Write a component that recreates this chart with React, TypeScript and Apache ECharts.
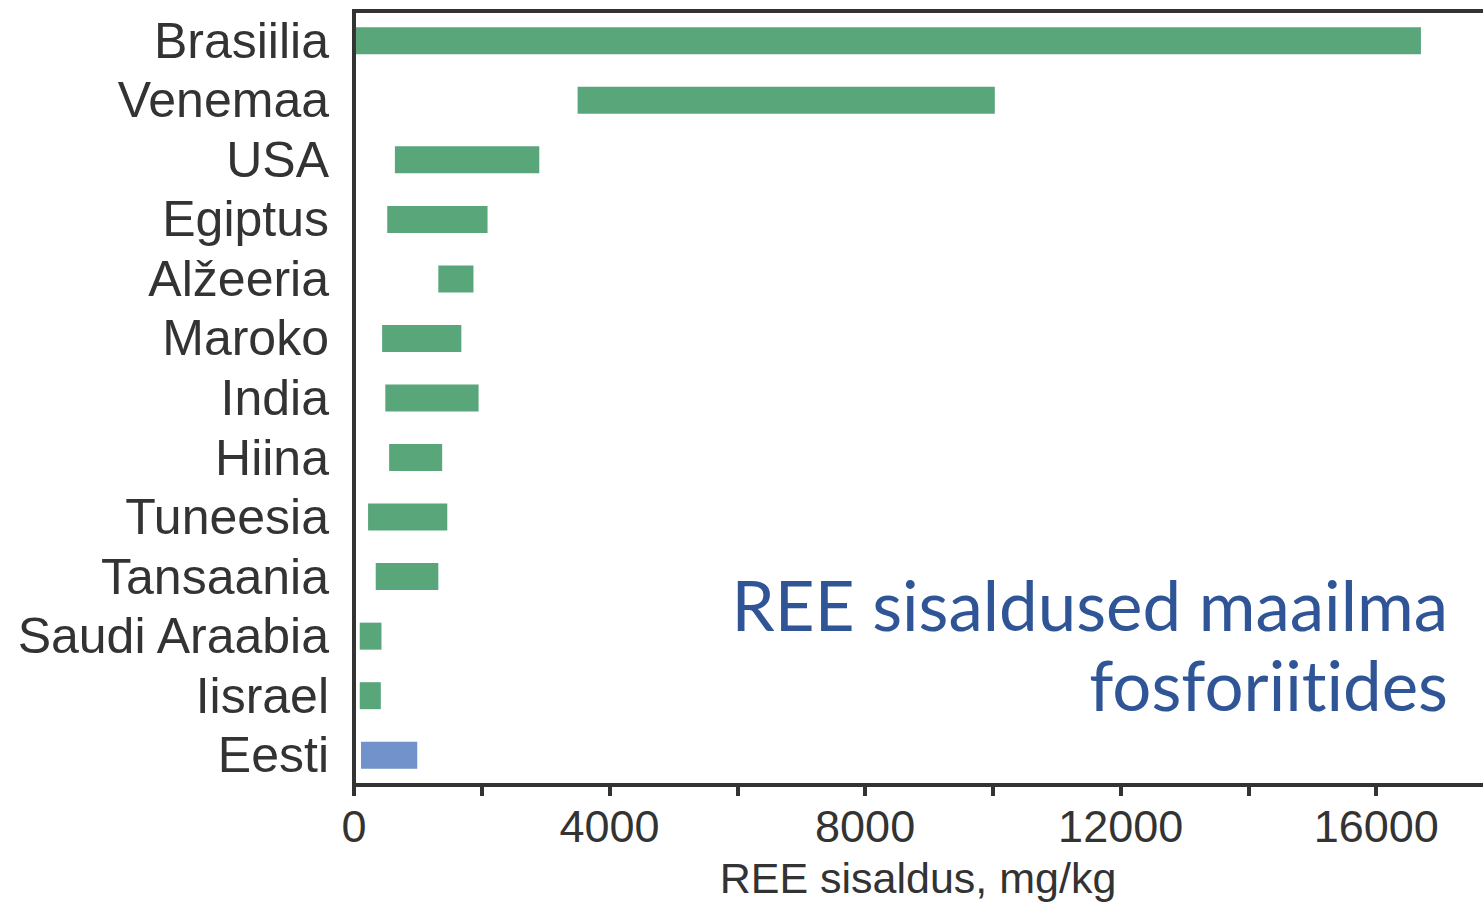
import React, { useEffect, useRef } from "react";
import * as echarts from "echarts";

const countries = [
  "Brasiilia",
  "Venemaa",
  "USA",
  "Egiptus",
  "Alžeeria",
  "Maroko",
  "India",
  "Hiina",
  "Tuneesia",
  "Tansaania",
  "Saudi Araabia",
  "Iisrael",
  "Eesti",
];
const reeMin = [30, 3500, 640, 520, 1320, 440, 490, 550, 220, 340, 90, 90, 110];
const reeMax = [16700, 10030, 2900, 2090, 1870, 1680, 1950, 1380, 1460, 1320, 430, 420, 990];
const highlighted = ["Eesti"];
const xTicks = [0, 4000, 8000, 12000, 16000];
const axisTitle = "REE sisaldus, mg/kg";
const overlayLines = ["REE sisaldused maailma", "fosforiitides"];

const GREEN = "#5aa67b";
const BLUE = "#7192ca";
const INK = "#333333";

export default function App() {
  const ref = useRef<HTMLDivElement>(null);

  useEffect(() => {
    if (!ref.current) return;
    const chart = echarts.init(ref.current, null, { renderer: "svg" });
    const font = "Liberation Sans, Arial, sans-serif";
    chart.setOption({
      animation: false,
      backgroundColor: "#ffffff",
      grid: {
        left: 354,
        top: 11,
        width: 1150,
        height: 774,
        containLabel: false,
        outerBoundsMode: "none",
        show: true,
        borderColor: INK,
        borderWidth: 4,
        backgroundColor: "transparent",
      },
      xAxis: {
        type: "value",
        min: 0,
        max: 18000,
        interval: 2000,
        splitLine: { show: false },
        axisLine: { show: true, lineStyle: { color: INK, width: 4 } },
        axisTick: { show: true, length: 11, lineStyle: { color: INK, width: 4 } },
        axisLabel: {
          show: true,
          color: INK,
          fontFamily: font,
          fontSize: 45,
          margin: 19,
          formatter: (v: number) => (xTicks.includes(v) ? String(v) : ""),
        },
      },
      yAxis: {
        type: "category",
        data: countries,
        inverse: true,
        axisLine: { show: true, lineStyle: { color: INK, width: 4 } },
        axisTick: { show: false },
        axisLabel: {
          interval: 0,
          color: INK,
          fontFamily: font,
          fontSize: 50,
          margin: 25,
        },
      },
      series: [
        {
          type: "bar",
          stack: "r",
          data: reeMin,
          barWidth: 27,
          itemStyle: { color: "transparent" },
          silent: true,
        },
        {
          type: "bar",
          stack: "r",
          barWidth: 27,
          data: countries.map((c, i) => ({
            value: reeMax[i] - reeMin[i],
            itemStyle: { color: highlighted.includes(c) ? BLUE : GREEN },
          })),
        },
      ],
      graphic: [
        {
          type: "text",
          x: 918,
          y: 878,
          style: {
            text: axisTitle,
            fill: INK,
            font: `43px ${font}`,
            textAlign: "center",
            textVerticalAlign: "middle",
          },
        },
        {
          type: "text",
          x: 1448,
          y: 604,
          style: {
            text: overlayLines[0],
            fill: "#2f5597",
            font: "69px Lato, sans-serif",
            textAlign: "right",
            textVerticalAlign: "middle",
          },
        },
        {
          type: "text",
          x: 1448,
          y: 684,
          style: {
            text: overlayLines[1],
            fill: "#2f5597",
            font: "69px Lato, sans-serif",
            textAlign: "right",
            textVerticalAlign: "middle",
          },
        },
      ],
    });
    return () => chart.dispose();
  }, []);

  return (
    <>
      <style>{`svg text { font-variant-ligatures: none !important; font-feature-settings: "liga" 0, "clig" 0, "dlig" 0, "calt" 0 !important; }`}</style>
      <div
        ref={ref}
        style={{ position: "fixed", left: 0, top: 0, width: 1483, height: 903 }}
      />
    </>
  );
}
